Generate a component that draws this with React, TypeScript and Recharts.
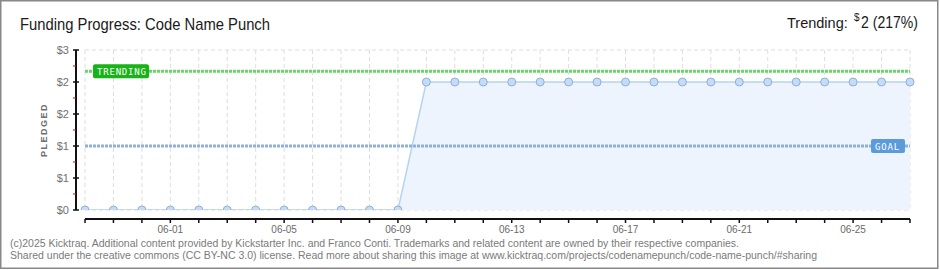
import { AreaChart, Area, XAxis, YAxis, CartesianGrid, ReferenceLine } from 'recharts';

const days = [
  '05-29', '05-30', '05-31', '06-01', '06-02', '06-03', '06-04', '06-05', '06-06', '06-07',
  '06-08', '06-09', '06-10', '06-11', '06-12', '06-13', '06-14', '06-15', '06-16', '06-17',
  '06-18', '06-19', '06-20', '06-21', '06-22', '06-23', '06-24', '06-25', '06-26', '06-27',
];
const pledged = [
  0, 0, 0, 0, 0, 0, 0, 0, 0, 0,
  0, 0, 2.4, 2.4, 2.4, 2.4, 2.4, 2.4, 2.4, 2.4,
  2.4, 2.4, 2.4, 2.4, 2.4, 2.4, 2.4, 2.4, 2.4, 2.4,
];
const labeledDays = ['06-01', '06-05', '06-09', '06-13', '06-17', '06-21', '06-25'];
const majorTicks = [0, 0.6, 1.2, 1.8, 2.4, 3];
const minorTicks = [0.3, 0.9, 1.5, 2.1, 2.7];
const goal = 1.2;
const trending = 2.6;

const data = days.map((day, i) => ({ day, pledged: pledged[i] }));

const FONT = "'Liberation Sans', Arial, sans-serif";

function YTick(props: any) {
  const { x, y, payload } = props;
  const v = payload.value;
  if (!majorTicks.includes(v)) {
    return <line x1={x - 3} x2={x} y1={y} y2={y} stroke="#e00000" strokeWidth={1} />;
  }
  return (
    <g>
      <line x1={x - 3} x2={x + 3} y1={y} y2={y} stroke="#111" strokeWidth={1.5} />
      <text x={x - 7} y={y} dy="0.35em" textAnchor="end" fontSize={11} fill="#707070" fontFamily={FONT}>
        {`$${Math.round(v)}`}
      </text>
    </g>
  );
}

function TagLabel(props: any) {
  const { viewBox, text, color, align } = props;
  const w = text === 'GOAL' ? 34 : 56;
  const bx = align === 'start' ? viewBox.x + 8 : viewBox.x + viewBox.width - w - 5;
  const by = viewBox.y - 7;
  return (
    <g>
      <rect x={bx} y={by} width={w} height={14} rx={2} fill={color} />
      <text x={bx + 4} y={by + 10.5} fontSize={9} letterSpacing={0.8} fill="#fff" fontFamily="'DejaVu Sans Mono', monospace">
        {text}
      </text>
    </g>
  );
}

export default function App() {
  return (
    <div style={{ position: 'absolute', left: 0, top: 0, width: 940, height: 270, background: '#fff' }}>
      <AreaChart
        width={940}
        height={270}
        data={data}
        margin={{ top: 50, right: 30, left: 26, bottom: 31 }}
      >
        <XAxis xAxisId="pad" dataKey="day" height={9} tick={false} tickLine={false} axisLine={false} />
        <XAxis
          xAxisId="time"
          dataKey="day"
          height={20}
          interval={0}
          tickSize={4}
          tickMargin={3}
          tickLine={{ stroke: '#111', strokeWidth: 1.5 }}
          axisLine={{ stroke: '#111', strokeWidth: 2 }}
          tickFormatter={(d: string) => (labeledDays.includes(d) ? d : '')}
          tick={{ fontSize: 10, fill: '#6a6a6a', fontFamily: FONT }}
        />
        <YAxis
          yAxisId="pad"
          type="number"
          domain={[0, 3]}
          ticks={majorTicks}
          allowDataOverflow
          width={9}
          tick={false}
          tickLine={false}
          axisLine={false}
        />
        <YAxis
          yAxisId="val"
          type="number"
          domain={[0, 3]}
          ticks={[...majorTicks, ...minorTicks].sort((a, b) => a - b)}
          interval={0}
          allowDataOverflow
          width={50}
          tickSize={0}
          tickMargin={0}
          tickLine={false}
          axisLine={{ stroke: '#111', strokeWidth: 2 }}
          tick={<YTick />}
        />
        <CartesianGrid xAxisId="time" yAxisId="pad" stroke="#dedede" strokeDasharray="4 3" />
        <Area
          xAxisId="time"
          yAxisId="val"
          type="linear"
          dataKey="pledged"
          stroke="#b5d3f2"
          strokeWidth={1.5}
          fill="#edf4fd"
          fillOpacity={1}
          dot={{ r: 4, fill: '#c6dcf6', stroke: '#8eb0d9', strokeWidth: 1, fillOpacity: 1 }}
          isAnimationActive={false}
        />
        <ReferenceLine
          xAxisId="time"
          yAxisId="val"
          segment={[{ x: days[0], y: goal }, { x: days[days.length - 1], y: goal }]}
          stroke="#8cb1de"
          strokeWidth={3}
          strokeDasharray="3 1"
          label={<TagLabel text="GOAL" color="#5b9bdc" align="end" />}
        />
        <ReferenceLine
          xAxisId="time"
          yAxisId="val"
          segment={[{ x: days[0], y: trending }, { x: days[days.length - 1], y: trending }]}
          stroke="#66d866"
          strokeWidth={3}
          strokeDasharray="3 1"
          label={<TagLabel text="TRENDING" color="#17b317" align="start" />}
        />
      </AreaChart>
      <svg width={940} height={270} style={{ position: 'absolute', left: 0, top: 0, pointerEvents: 'none' }}>
        <rect x={0.75} y={0.75} width={937} height={267.5} fill="none" stroke="#888" strokeWidth={1.5} />
        <text x={20} y={30} fontSize={17} fill="#1a1a1a" fontFamily={FONT} textLength={250} lengthAdjust="spacingAndGlyphs">
          Funding Progress: Code Name Punch
        </text>
        <text x={787} y={28} fontSize={14.5} fill="#1a1a1a" fontFamily={FONT}>
          Trending:
        </text>
        <text x={854} y={21} fontSize={10} fill="#1a1a1a" fontFamily={FONT}>
          $
        </text>
        <text x={861} y={28} fontSize={17} fill="#1a1a1a" fontFamily={FONT} textLength={57} lengthAdjust="spacingAndGlyphs">
          2 (217%)
        </text>
        <text
          x={47}
          y={130}
          transform="rotate(-90 47 130)"
          textAnchor="middle"
          fontSize={9}
          fontWeight="bold"
          letterSpacing={1.5}
          fill="#707070"
          fontFamily={FONT}
        >
          PLEDGED
        </text>
        <text x={10} y={247} fontSize={10.5} fill="#7a7a7a" fontFamily={FONT} textLength={729} lengthAdjust="spacingAndGlyphs">
          (c)2025 Kicktraq. Additional content provided by Kickstarter Inc. and Franco Conti. Trademarks and related content are owned by their respective companies.
        </text>
        <text x={10} y={259} fontSize={10.5} fill="#7a7a7a" fontFamily={FONT} textLength={807} lengthAdjust="spacingAndGlyphs">
          Shared under the creative commons (CC BY-NC 3.0) license. Read more about sharing this image at www.kicktraq.com/projects/codenamepunch/code-name-punch/#sharing
        </text>
      </svg>
    </div>
  );
}
